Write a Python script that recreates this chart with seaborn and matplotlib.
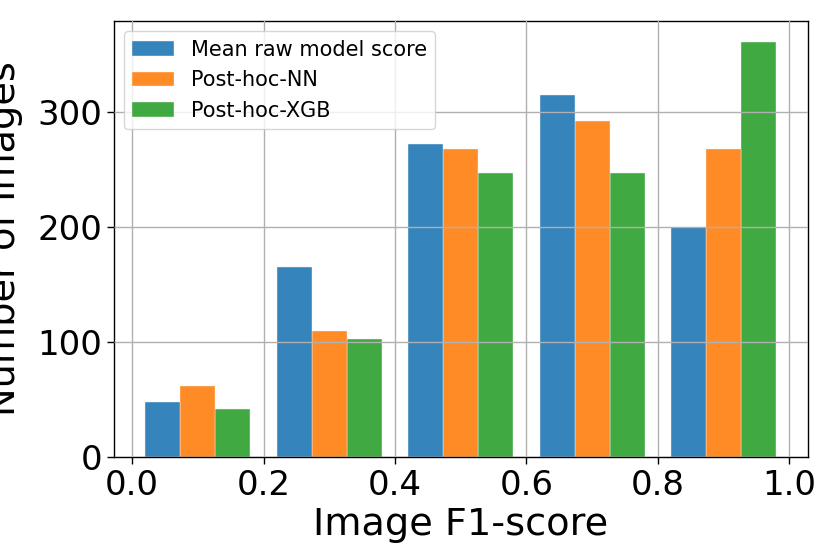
import matplotlib
matplotlib.use("Agg")
import matplotlib.pyplot as plt
import numpy as np
import pandas as pd
import seaborn as sns

# Histogram bins of image F1-score and counts per method
bin_edges = [0.0, 0.2, 0.4, 0.6, 0.8, 1.0]
methods = ["Mean raw model score", "Post-hoc-NN", "Post-hoc-XGB"]
mean_raw_counts = [48, 165, 272, 315, 200]
post_hoc_nn_counts = [62, 110, 268, 292, 268]
post_hoc_xgb_counts = [42, 103, 247, 247, 361]

bin_centers = [(a + b) / 2 for a, b in zip(bin_edges[:-1], bin_edges[1:])]
rows = []
for method, counts in zip(methods, [mean_raw_counts, post_hoc_nn_counts, post_hoc_xgb_counts]):
    for c, n in zip(bin_centers, counts):
        rows.append({"F1": c, "Method": method, "Count": n})
df = pd.DataFrame(rows)

sns.set_style("white")
plt.rcParams["font.family"] = ["DejaVu Sans"]
plt.rcParams["text.color"] = "black"
plt.rcParams["axes.labelcolor"] = "black"
plt.rcParams["xtick.color"] = "black"
plt.rcParams["ytick.color"] = "black"

fig, ax = plt.subplots(figsize=(8.3, 5.54), dpi=100)
fig.subplots_adjust(left=0.137, right=0.973, top=0.962, bottom=0.175)

sns.histplot(
    data=df,
    x="F1",
    hue="Method",
    hue_order=methods,
    weights="Count",
    bins=bin_edges,
    multiple="dodge",
    shrink=0.8,
    palette=["#1f77b4", "#ff7f0e", "#2ca02c"],
    alpha=0.9,
    linewidth=0.3,
    edgecolor="#f4f4f4",
    ax=ax,
)

ax.set_axisbelow(False)
ax.grid(True, color="#b0b0b0", linewidth=1.0)
for s in ax.spines.values():
    s.set_color("black")
    s.set_linewidth(1.0)
ax.tick_params(axis="both", direction="out", length=5, width=1, labelsize=24.5,
               bottom=True, left=True, color="black")
ax.set_xticks([0.0, 0.2, 0.4, 0.6, 0.8, 1.0])
ax.set_yticks([0, 100, 200, 300])
ax.set_xlabel("Image F1-score", fontsize=27.5, labelpad=4)
ax.set_ylabel("Number of Images", fontsize=27.5, labelpad=10)

sns.move_legend(ax, "upper left", title=None, fontsize=15, frameon=True,
                handlelength=2.0, handleheight=0.7, borderaxespad=0.5,
                framealpha=0.8, edgecolor="#cccccc", fancybox=True)

fig.savefig("out.png", dpi=100)
